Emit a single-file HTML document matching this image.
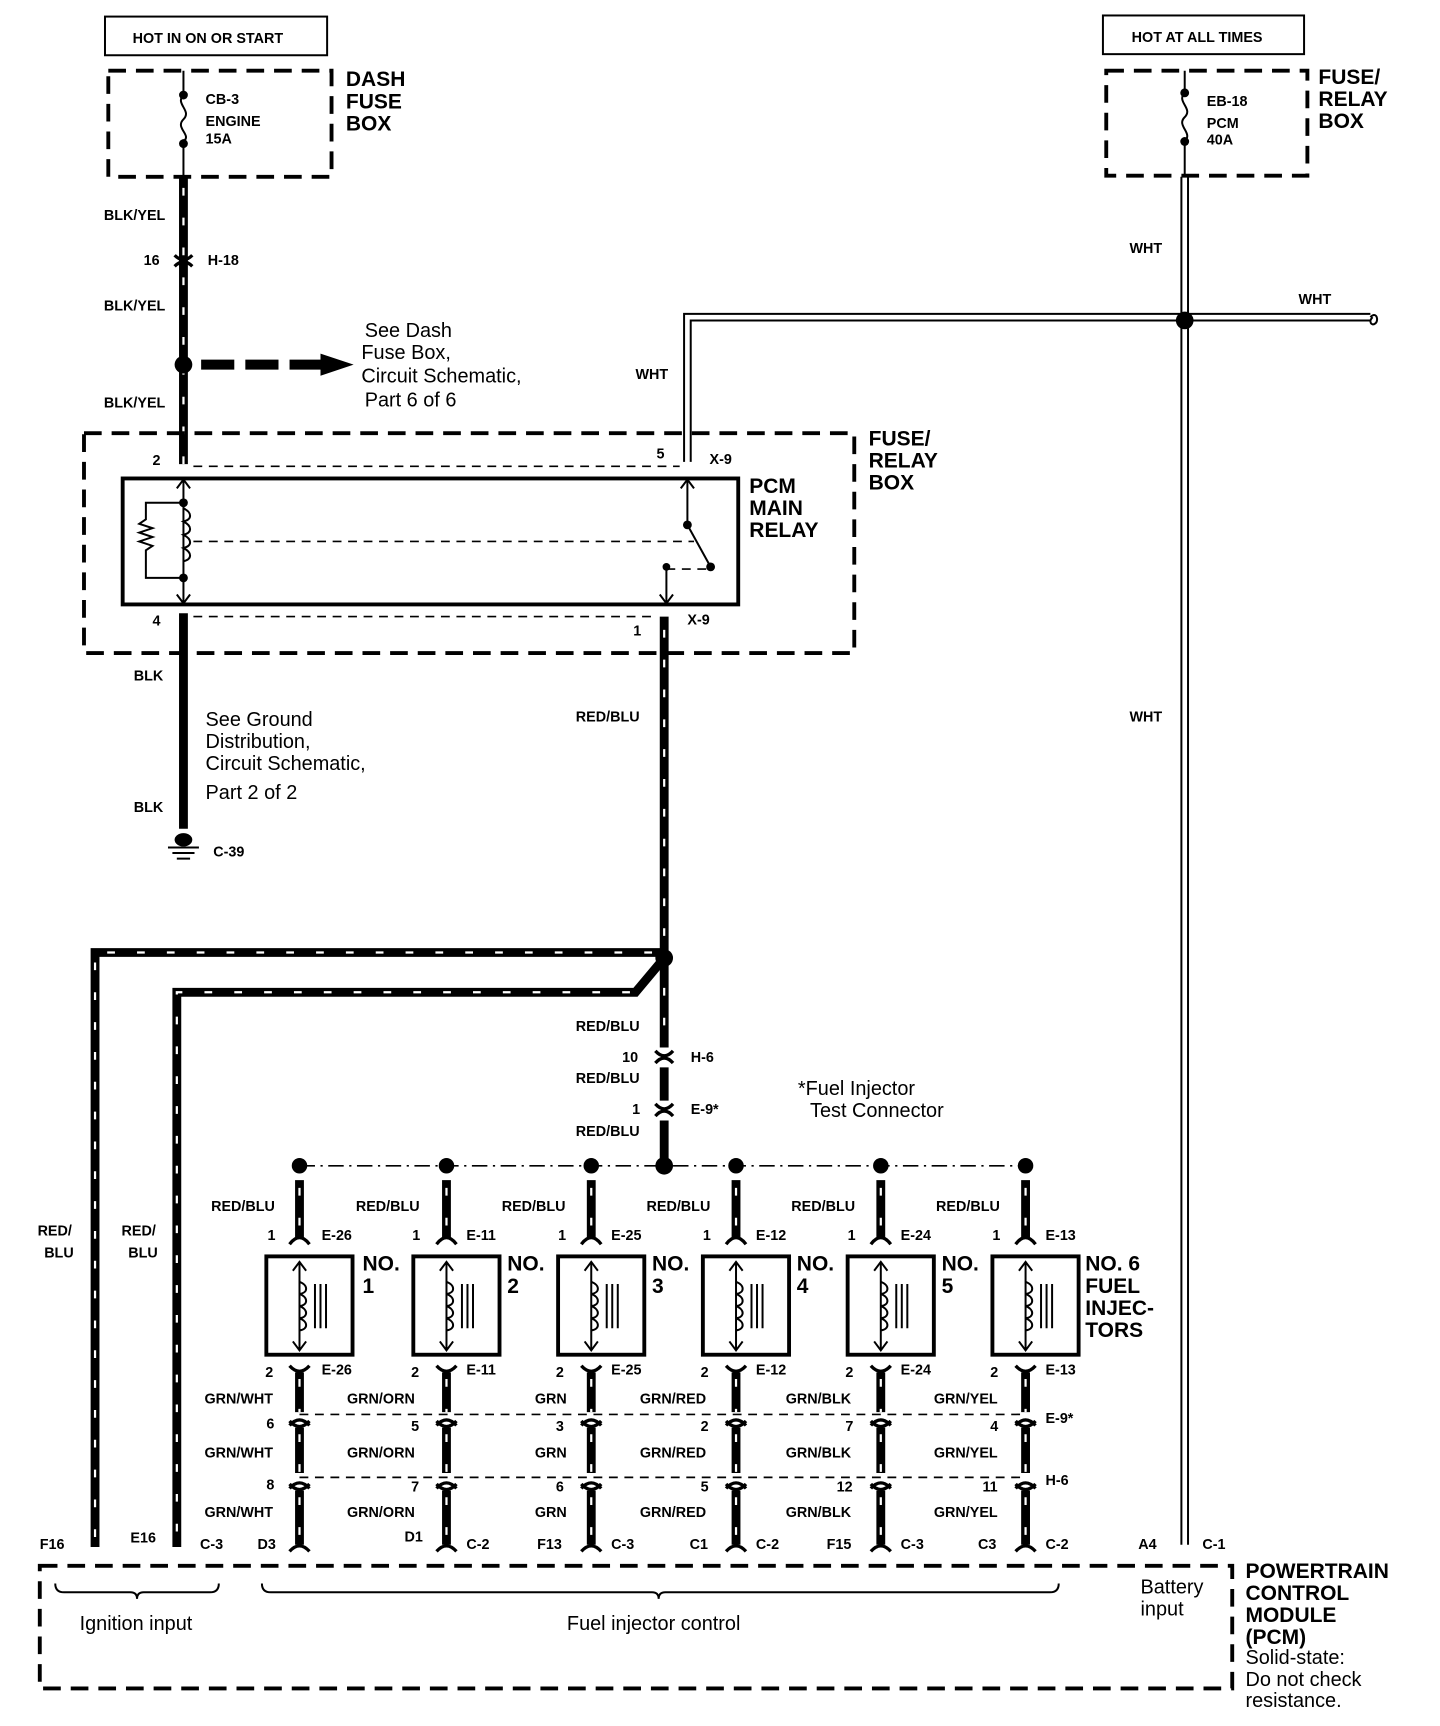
<!DOCTYPE html>
<html><head><meta charset="utf-8"><style>
html,body{margin:0;padding:0;background:#fff}
svg{display:block}
text{font-family:"Liberation Sans",Arial,sans-serif;fill:#000}
.b{font-weight:bold;font-size:13px}
.h{font-weight:bold;font-size:19px}
.n{font-size:18px}
.w{stroke:#000;stroke-width:8;fill:none}
.s{stroke:#fff;stroke-width:2;stroke-dasharray:7 20;fill:none}
.d{stroke:#000;stroke-width:3.5;stroke-dasharray:16 9;fill:none}
.t{stroke:#000;stroke-width:1.8;fill:none}
.td{stroke:#000;stroke-width:1.5;stroke-dasharray:8 6;fill:none}
.c{stroke:#000;stroke-width:3;fill:none}
</style></head><body>
<svg width="1440" height="1726" viewBox="0 0 1303 1562" preserveAspectRatio="none" xmlns="http://www.w3.org/2000/svg">
<!-- top boxes -->
<rect x="95" y="15" width="201" height="35" class="t" stroke-width="2"/>
<text x="120" y="39" class="b" font-size="12">HOT IN ON OR START</text>
<rect x="98" y="64" width="202" height="96" class="d"/>
<line x1="166" y1="64" x2="166" y2="160" class="t" stroke-width="2.5"/>
<rect x="160" y="88" width="12" height="38" fill="#fff"/>
<path d="M166 86 c-8 8 8 14 0 22 c-8 8 8 14 0 20" class="t" stroke-width="2.5"/>
<circle cx="166" cy="86" r="4"/><circle cx="166" cy="130" r="4"/>
<text x="186" y="94" class="b" font-size="12">CB-3</text>
<text x="186" y="114" class="b" font-size="12">ENGINE</text>
<text x="186" y="130" class="b" font-size="12">15A</text>
<text x="313" y="78" class="h">DASH</text><text x="313" y="98" class="h">FUSE</text><text x="313" y="118" class="h">BOX</text>

<rect x="998" y="14" width="182" height="35" class="t" stroke-width="2"/>
<text x="1024" y="38" class="b" font-size="12">HOT AT ALL TIMES</text>
<rect x="1001" y="64" width="182" height="95" class="d"/>
<line x1="1072" y1="64" x2="1072" y2="160" class="t" stroke-width="2.5"/>
<rect x="1066" y="86" width="12" height="40" fill="#fff"/>
<path d="M1072 84 c-8 8 8 14 0 22 c-8 8 8 14 0 22" class="t" stroke-width="2.5"/>
<circle cx="1072" cy="84" r="4"/><circle cx="1072" cy="128" r="4"/>
<text x="1092" y="96" class="b" font-size="12">EB-18</text>
<text x="1092" y="116" class="b" font-size="12">PCM</text>
<text x="1092" y="131" class="b" font-size="12">40A</text>
<text x="1193" y="76" class="h">FUSE/</text><text x="1193" y="96" class="h">RELAY</text><text x="1193" y="116" class="h">BOX</text>

<!-- WHT double lines -->
<path d="M1069 160 V1398 M1075 160 V1398" class="t"/>
<path d="M619 418 V284 H1240 M625 418 V290 H1240" class="t" stroke-width="2"/>
<path d="M1240 287 c6 -6 8 4 4 6 c-3 2 -6 -2 -2 -6" class="t"/>
<circle cx="1072" cy="290" r="8"/>
<text x="1022" y="229" class="b">WHT</text>
<text x="1175" y="275" class="b">WHT</text>
<text x="575" y="343" class="b">WHT</text>
<text x="1022" y="653" class="b">WHT</text>

<!-- BLK/YEL wire -->
<line x1="166" y1="160" x2="166" y2="420" class="w"/>
<line x1="166" y1="170" x2="166" y2="420" class="s"/>
<path d="M158 241 Q166 233 174 241 M158 231 Q166 239 174 231" class="c"/>
<text x="94" y="199" class="b">BLK/YEL</text>
<text x="130" y="240" class="b">16</text><text x="188" y="240" class="b">H-18</text>
<text x="94" y="281" class="b">BLK/YEL</text>
<text x="94" y="369" class="b">BLK/YEL</text>
<circle cx="166" cy="330" r="8"/>
<line x1="182" y1="330" x2="295" y2="330" stroke="#000" stroke-width="9" stroke-dasharray="30 10"/>
<polygon points="290,320 320,330 290,340"/>
<text x="330" y="305" class="n">See Dash</text>
<text x="327" y="325" class="n">Fuse Box,</text>
<text x="327" y="346" class="n">Circuit Schematic,</text>
<text x="330" y="368" class="n">Part 6 of 6</text>

<!-- fuse/relay box -->
<rect x="76" y="392" width="697" height="199" class="d"/>
<text x="786" y="403" class="h">FUSE/</text><text x="786" y="423" class="h">RELAY</text><text x="786" y="443" class="h">BOX</text>
<line x1="175" y1="422" x2="615" y2="422" class="td"/>
<line x1="175" y1="558" x2="595" y2="558" class="td"/>
<text x="138" y="421" class="b">2</text>
<text x="594" y="415" class="b">5</text><text x="642" y="420" class="b">X-9</text>
<rect x="111" y="433" width="557" height="114" fill="none" stroke="#000" stroke-width="3.5"/>
<text x="678" y="446" class="h">PCM</text><text x="678" y="466" class="h">MAIN</text><text x="678" y="486" class="h">RELAY</text>
<line x1="166" y1="433" x2="166" y2="547" class="t"/>
<path d="M160 442 L166 434 L172 442 M160 538 L166 546 L172 538 M616 442 L622 434 L628 442 M597 538 L603 546 L609 538" class="t"/>
<path d="M166 460 c8 4 8 10 0 12 c8 4 8 10 0 12 c8 4 8 10 0 12 c8 4 8 10 0 12" class="t" fill="#fff"/>
<path d="M166 455 H132 V470 l-6 4 l12 4 l-12 4 l12 4 l-12 4 l12 4 l-6 4 V523 H166" class="t"/>
<circle cx="166" cy="455" r="4"/><circle cx="166" cy="523" r="4"/>
<line x1="175" y1="490" x2="628" y2="490" class="td"/>
<line x1="622" y1="433" x2="622" y2="475" class="t"/>
<line x1="622" y1="475" x2="643" y2="513" class="t"/>
<circle cx="622" cy="475" r="4"/><circle cx="643" cy="513" r="4"/>
<line x1="603" y1="515" x2="643" y2="515" class="td"/>
<line x1="603" y1="513" x2="603" y2="547" class="t"/>
<circle cx="603" cy="513" r="3.5"/>
<text x="138" y="566" class="b">4</text>
<text x="573" y="575" class="b">1</text><text x="622" y="565" class="b">X-9</text>

<!-- BLK wire -->
<line x1="166" y1="555" x2="166" y2="750" class="w"/>
<text x="121" y="616" class="b">BLK</text>
<text x="121" y="735" class="b">BLK</text>
<text x="186" y="657" class="n">See Ground</text>
<text x="186" y="677" class="n">Distribution,</text>
<text x="186" y="697" class="n">Circuit Schematic,</text>
<text x="186" y="723" class="n">Part 2 of 2</text>
<ellipse cx="166" cy="760" rx="8" ry="6"/>
<path d="M152 767 H180 M156 772 H176 M160 777 H172" class="t"/>
<text x="193" y="775" class="b">C-39</text>

<!-- RED/BLU main -->
<line x1="601" y1="558" x2="601" y2="948" class="w"/>
<line x1="601" y1="570" x2="601" y2="948" class="s"/>
<text x="521" y="653" class="b">RED/BLU</text>
<circle cx="601" cy="867" r="8"/>
<path d="M601 862 H86 V1400" class="w"/>
<path d="M590 862 H86 V1400" class="s"/>
<path d="M601 867 L575 898 H160 V1400" class="w"/>
<path d="M570 898 H160 V1400" class="s"/>
<text x="34" y="1118" class="b">RED/</text><text x="40" y="1138" class="b">BLU</text>
<text x="110" y="1118" class="b">RED/</text><text x="116" y="1138" class="b">BLU</text>
<text x="521" y="933" class="b">RED/BLU</text>
<path d="M593 962 Q601 953 609 962 M593 951 Q601 960 609 951" class="c"/>
<line x1="601" y1="966" x2="601" y2="996" class="w"/>
<path d="M593 1010 Q601 1001 609 1010 M593 999 Q601 1008 609 999" class="c"/>
<line x1="601" y1="1014" x2="601" y2="1055" class="w"/>
<text x="563" y="961" class="b">10</text><text x="625" y="961" class="b">H-6</text>
<text x="521" y="980" class="b">RED/BLU</text>
<text x="572" y="1008" class="b">1</text><text x="625" y="1008" class="b">E-9*</text>
<text x="521" y="1028" class="b">RED/BLU</text>
<text x="722" y="991" class="n">*Fuel Injector</text>
<text x="733" y="1011" class="n">Test Connector</text>

<!-- bus -->
<line x1="271" y1="1055" x2="928" y2="1055" stroke="#000" stroke-width="1.5" stroke-dasharray="14 5 2 5"/>
<g>
<circle cx="271" cy="1055" r="7"/><circle cx="404" cy="1055" r="7"/><circle cx="535" cy="1055" r="7"/><circle cx="601" cy="1055" r="8"/><circle cx="666" cy="1055" r="7"/><circle cx="797" cy="1055" r="7"/><circle cx="928" cy="1055" r="7"/>
</g>
<line x1="271" y1="1280" x2="928" y2="1280" class="td" stroke-width="2" stroke-dasharray="12 7"/>
<line x1="271" y1="1337" x2="928" y2="1337" class="td" stroke-width="2" stroke-dasharray="12 7"/>

<!-- injector columns -->
<defs>
<g id="col">
<line x1="0" y1="1068" x2="0" y2="1120" class="w"/>
<path d="M-9 1126 Q0 1114 9 1126" class="c"/>
<rect x="-30" y="1137" width="78" height="89" fill="none" stroke="#000" stroke-width="3.5"/>
<line x1="0" y1="1142" x2="0" y2="1222" class="t"/>
<path d="M-6 1150 L0 1142 L6 1150 M-6 1214 L0 1222 L6 1214" class="t"/>
<path d="M0 1160 c8 3 8 10 0 11 c8 3 8 10 0 11 c8 3 8 10 0 11 c8 3 8 10 0 11" class="t" fill="#fff"/>
<path d="M14 1162 V1202 M19 1162 V1202 M24 1162 V1202" class="t"/>
<path d="M-9 1236 Q0 1246 9 1236" class="c"/>
<line x1="0" y1="1242" x2="0" y2="1278" class="w"/>
<path d="M-9 1290 Q0 1280 9 1290 M-9 1286 Q0 1296 9 1286" class="c"/>
<line x1="0" y1="1292" x2="0" y2="1333" class="w"/>
<path d="M-9 1347 Q0 1337 9 1347 M-9 1343 Q0 1353 9 1343" class="c"/>
<line x1="0" y1="1349" x2="0" y2="1398" class="w"/>
<path d="M-9 1404 Q0 1394 9 1404" class="c"/>
<path d="M0 1075 V1120 M0 1248 V1278 M0 1298 V1333 M0 1355 V1395" class="s" stroke-dasharray="6 18"/>
</g>
</defs>
<use href="#col" x="271"/><use href="#col" x="404"/><use href="#col" x="535"/><use href="#col" x="666"/><use href="#col" x="797"/><use href="#col" x="928"/>
<path d="M86 1400 v-4 M160 1400 v-4" class="t"/>

<g class="b">
<text x="191" y="1096" class="b">RED/BLU</text><text x="322" y="1096" class="b">RED/BLU</text><text x="454" y="1096" class="b">RED/BLU</text><text x="585" y="1096" class="b">RED/BLU</text><text x="716" y="1096" class="b">RED/BLU</text><text x="847" y="1096" class="b">RED/BLU</text>
<text x="242" y="1122" class="b">1</text><text x="291" y="1122" class="b">E-26</text>
<text x="373" y="1122" class="b">1</text><text x="422" y="1122" class="b">E-11</text>
<text x="505" y="1122" class="b">1</text><text x="553" y="1122" class="b">E-25</text>
<text x="636" y="1122" class="b">1</text><text x="684" y="1122" class="b">E-12</text>
<text x="767" y="1122" class="b">1</text><text x="815" y="1122" class="b">E-24</text>
<text x="898" y="1122" class="b">1</text><text x="946" y="1122" class="b">E-13</text>
</g>
<text x="328" y="1150" class="h">NO.</text><text x="328" y="1170" class="h">1</text>
<text x="459" y="1150" class="h">NO.</text><text x="459" y="1170" class="h">2</text>
<text x="590" y="1150" class="h">NO.</text><text x="590" y="1170" class="h">3</text>
<text x="721" y="1150" class="h">NO.</text><text x="721" y="1170" class="h">4</text>
<text x="852" y="1150" class="h">NO.</text><text x="852" y="1170" class="h">5</text>
<text x="982" y="1150" class="h">NO. 6</text><text x="982" y="1170" class="h">FUEL</text><text x="982" y="1190" class="h">INJEC-</text><text x="982" y="1210" class="h">TORS</text>

<text x="240" y="1246" class="b">2</text><text x="291" y="1244" class="b">E-26</text>
<text x="372" y="1246" class="b">2</text><text x="422" y="1244" class="b">E-11</text>
<text x="503" y="1246" class="b">2</text><text x="553" y="1244" class="b">E-25</text>
<text x="634" y="1246" class="b">2</text><text x="684" y="1244" class="b">E-12</text>
<text x="765" y="1246" class="b">2</text><text x="815" y="1244" class="b">E-24</text>
<text x="896" y="1246" class="b">2</text><text x="946" y="1244" class="b">E-13</text>

<text x="185" y="1270" class="b">GRN/WHT</text><text x="314" y="1270" class="b">GRN/ORN</text><text x="484" y="1270" class="b">GRN</text><text x="579" y="1270" class="b">GRN/RED</text><text x="711" y="1270" class="b">GRN/BLK</text><text x="845" y="1270" class="b">GRN/YEL</text>
<text x="241" y="1293" class="b">6</text><text x="372" y="1295" class="b">5</text><text x="503" y="1295" class="b">3</text><text x="634" y="1295" class="b">2</text><text x="765" y="1295" class="b">7</text><text x="896" y="1295" class="b">4</text><text x="946" y="1288" class="b">E-9*</text>
<text x="185" y="1319" class="b">GRN/WHT</text><text x="314" y="1319" class="b">GRN/ORN</text><text x="484" y="1319" class="b">GRN</text><text x="579" y="1319" class="b">GRN/RED</text><text x="711" y="1319" class="b">GRN/BLK</text><text x="845" y="1319" class="b">GRN/YEL</text>
<text x="241" y="1348" class="b">8</text><text x="372" y="1350" class="b">7</text><text x="503" y="1350" class="b">6</text><text x="634" y="1350" class="b">5</text><text x="757" y="1350" class="b">12</text><text x="889" y="1350" class="b">11</text><text x="946" y="1344" class="b">H-6</text>
<text x="185" y="1373" class="b">GRN/WHT</text><text x="314" y="1373" class="b">GRN/ORN</text><text x="484" y="1373" class="b">GRN</text><text x="579" y="1373" class="b">GRN/RED</text><text x="711" y="1373" class="b">GRN/BLK</text><text x="845" y="1373" class="b">GRN/YEL</text>
<text x="366" y="1395" class="b">D1</text>

<g>
<text x="36" y="1402" class="b">F16</text><text x="118" y="1396" class="b">E16</text><text x="181" y="1402" class="b">C-3</text>
<text x="233" y="1402" class="b">D3</text><text x="422" y="1402" class="b">C-2</text>
<text x="486" y="1402" class="b">F13</text><text x="553" y="1402" class="b">C-3</text>
<text x="624" y="1402" class="b">C1</text><text x="684" y="1402" class="b">C-2</text>
<text x="748" y="1402" class="b">F15</text><text x="815" y="1402" class="b">C-3</text>
<text x="885" y="1402" class="b">C3</text><text x="946" y="1402" class="b">C-2</text>
<text x="1030" y="1402" class="b">A4</text><text x="1088" y="1402" class="b">C-1</text>
</g>

<!-- PCM box -->
<rect x="36" y="1417" width="1079" height="111" class="d"/>
<path d="M50 1433 q0 8 8 8 H118 q6 0 6 6 q0 -6 6 -6 H190 q8 0 8 -8" class="t" stroke-width="2"/>
<path d="M237 1433 q0 8 8 8 H590 q6 0 6 6 q0 -6 6 -6 H950 q8 0 8 -8" class="t" stroke-width="2"/>
<text x="72" y="1475" class="n">Ignition input</text>
<text x="513" y="1475" class="n">Fuel injector control</text>
<text x="1032" y="1442" class="n">Battery</text><text x="1032" y="1462" class="n">input</text>
<text x="1127" y="1428" class="h">POWERTRAIN</text><text x="1127" y="1448" class="h">CONTROL</text><text x="1127" y="1468" class="h">MODULE</text><text x="1127" y="1488" class="h">(PCM)</text>
<text x="1127" y="1506" class="n">Solid-state:</text><text x="1127" y="1526" class="n">Do not check</text><text x="1127" y="1545" class="n">resistance.</text>
</svg>
</body></html>
